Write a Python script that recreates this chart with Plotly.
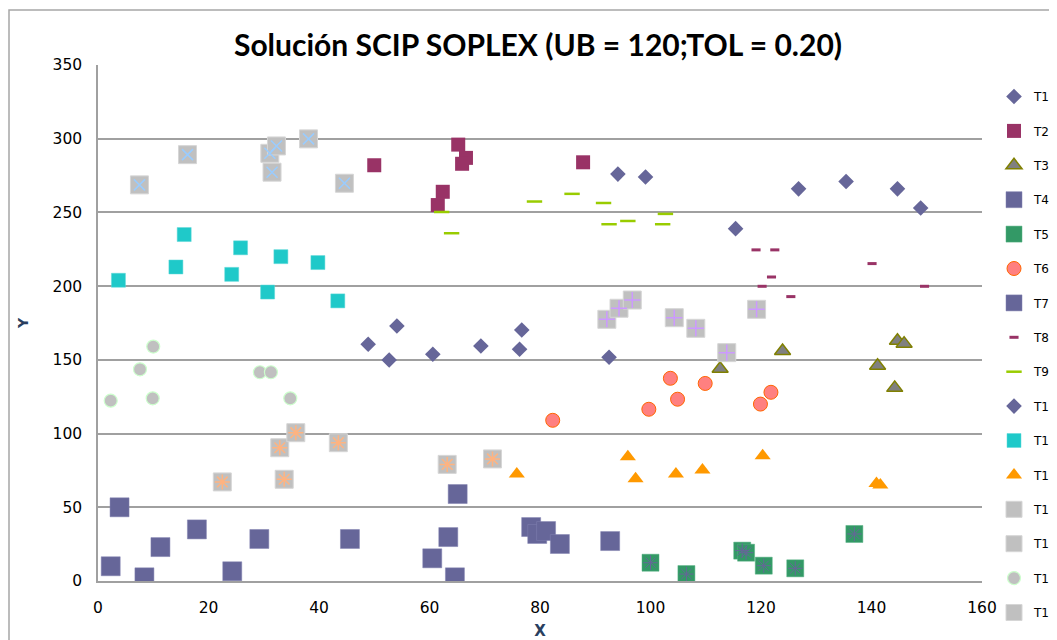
import plotly.graph_objects as go

# ---------------- data ----------------
t1_x = [94.1, 99.1, 115.4, 126.8, 135.4, 144.7, 148.9]
t1_y = [276, 274, 239, 266, 271, 266, 253]
t2_x = [50.0, 61.5, 62.4, 65.2, 66.6, 65.9, 87.8]
t2_y = [282, 255, 264, 296, 287, 283, 284]
t3_x = [112.6, 123.9, 141.1, 144.7, 145.9, 144.2]
t3_y = [144, 156, 146, 163, 161, 131]
t4_x = [2.3, 3.9, 8.4, 11.3, 17.9, 24.3, 29.2, 45.6]
t4_y = [10, 50, 2.5, 23, 35, 6.6, 28.5, 28.5]
t5_x = [100.0, 106.5, 116.6, 117.3, 120.5, 126.2, 136.9]
t5_y = [12.4, 4.7, 20.6, 19.2, 10.4, 8.6, 31.9]
t6_x = [82.3, 99.7, 103.6, 104.9, 109.9, 119.9, 121.8]
t6_y = [109, 116.5, 137.5, 123.3, 134, 120, 128]
t7_x = [60.5, 63.4, 64.6, 65.1, 78.4, 79.5, 81.1, 83.6, 92.7]
t7_y = [15.4, 29.8, 2.5, 59, 36.6, 31.9, 33.9, 25.1, 27.1]
t8_x = [119.1, 122.5, 121.9, 120.2, 125.4, 140.1, 149.6]
t8_y = [224.6, 224.6, 206.2, 199.9, 192.9, 215.3, 199.9]
t9_x = [62.2, 64.0, 79.0, 85.8, 91.5, 92.5, 95.9, 102.7, 102.2]
t9_y = [250.3, 235.9, 257.4, 262.6, 256.4, 242.0, 244.2, 249.0, 242.0]
t10_x = [48.9, 52.7, 54.1, 60.6, 69.3, 76.3, 76.7, 92.5]
t10_y = [160.6, 149.9, 173.0, 153.8, 159.4, 157.2, 170.3, 151.8]
t11_x = [3.7, 15.6, 14.1, 25.8, 24.2, 33.1, 30.7, 39.8, 43.4]
t11_y = [204, 235, 213, 226, 208, 220, 196, 216, 190]
t12_x = [75.8, 95.9, 97.3, 104.6, 109.4, 120.3, 140.9, 141.6]
t12_y = [72.6, 84.3, 69.4, 72.6, 75.3, 85.0, 66.2, 65.2]
t13_x = [7.5, 16.2, 31.1, 32.3, 31.5, 38.1, 44.6]
t13_y = [268.7, 289.2, 290.1, 295.1, 277.3, 299.9, 269.8]
t14_x = [22.5, 33.7, 32.9, 35.8, 43.5, 63.2, 71.4]
t14_y = [67.2, 69.0, 90.4, 100.6, 93.8, 79.1, 82.8]
t15_x = [2.3, 7.6, 10.0, 9.9, 29.3, 31.3, 34.8]
t15_y = [122.3, 143.6, 159.0, 123.9, 141.6, 141.6, 123.9]
t16_x = [92.1, 94.3, 96.7, 104.3, 108.2, 113.8, 119.2]
t16_y = [177.5, 185.0, 190.6, 178.6, 171.4, 154.9, 184.3]

x_ticks = [0, 20, 40, 60, 80, 100, 120, 140, 160]
y_ticks = [0, 50, 100, 150, 200, 250, 300, 350]

title_text = "Solución SCIP SOPLEX (UB = 120;TOL = 0.20)"

# ---------------- figure ----------------
fig = go.Figure()


def add(name, xs, ys, symbol, size, color, lcolor=None, lwidth=0, overlay=None):
    fig.add_trace(go.Scatter(
        x=xs, y=ys, mode="markers", name=name, legendgroup=name,
        marker=dict(symbol=symbol, size=size, color=color,
                    line=dict(color=lcolor or color, width=lwidth)),
    ))
    if overlay is not None:
        osym, osize, ocolor, owidth = overlay
        fig.add_trace(go.Scatter(
            x=xs, y=ys, mode="markers", name=name, legendgroup=name,
            showlegend=False, hoverinfo="skip",
            marker=dict(symbol=osym, size=osize, color=ocolor,
                        line=dict(color=ocolor, width=owidth)),
        ))


SLATE = "#666699"
GRAY = "#C0C0C0"

add("T1", t1_x, t1_y, "diamond", 12, SLATE)
add("T2", t2_x, t2_y, "square", 14, "#993366")
add("T3", t3_x, t3_y, "triangle-up", 14, "#808080", "#808000", 1.5)
add("T4", t4_x, t4_y, "square", 19, SLATE, "#8080B0", 0.5)
add("T5", t5_x, t5_y, "square", 17, "#339966", "#55B080", 0.5,
    overlay=("asterisk-open", 12, SLATE, 1))
add("T6", t6_x, t6_y, "circle", 14, "#FF8080", "#FF6600", 1)
add("T7", t7_x, t7_y, "square", 19, SLATE, "#8080B0", 0.5)
add("T8", t8_x, t8_y, "line-ew-open", 6.5, "#993366", "#993366", 3)
add("T9", t9_x, t9_y, "line-ew-open", 11, "#99CC00", "#99CC00", 2.5)
add("T10", t10_x, t10_y, "diamond", 12, SLATE)
add("T11", t11_x, t11_y, "square", 14, "#1FC9C9", "#5FD8D8", 0.5)
add("T12", t12_x, t12_y, "triangle-up", 14, "#FF9900")
add("T13", t13_x, t13_y, "square", 18, GRAY, "#D6D6D6", 1,
    overlay=("x-thin-open", 11, "#99CCFF", 1.5))
add("T14", t14_x, t14_y, "square", 18, GRAY, "#D6D6D6", 1,
    overlay=("asterisk-open", 12.5, "#FFB380", 1.5))
add("T15", t15_x, t15_y, "circle", 13, GRAY, "#CCFFCC", 1.2)
add("T16", t16_x, t16_y, "square", 18, GRAY, "#D6D6D6", 1,
    overlay=("cross-thin-open", 11.5, "#CC99FF", 1.5))

GRID = "#A0A0A0"
TICKFONT = dict(family="DejaVu Sans", size=15.5, color="#000000")

# the page body adds an 8px offset; coordinates below are figure pixels
W, H = 1057, 632
L, T, PW, PH = 90, 57, 884, 516

fig.update_layout(
    width=W, height=H,
    margin=dict(l=L, r=W - L - PW, t=T, b=H - T - PH, autoexpand=False),
    paper_bgcolor="white", plot_bgcolor="white",
    title=dict(text="<b>" + title_text + "</b>", x=530 / W, xanchor="center",
               y=1 - 37 / H, yanchor="middle", yref="container",
               font=dict(family="Lato", size=30, color="#000000")),
    showlegend=True,
    legend=dict(x=(994 - 8 - L) / PW, y=1 - 17 / PH, xanchor="left", yanchor="top",
                font=dict(family="DejaVu Sans", size=12, color="#000000"),
                tracegroupgap=15.4, bgcolor="rgba(0,0,0,0)", itemsizing="trace",
                maxheight=2000),
    xaxis=dict(range=[0, 160], tickvals=x_ticks, showgrid=False, zeroline=False,
               showline=True, linecolor=GRID, linewidth=1.5, ticks="",
               ticklabelstandoff=12,
               tickfont=TICKFONT, title=dict(text="<b>X</b>", standoff=9,
                                             font=dict(family="DejaVu Sans", size=15))),
    yaxis=dict(range=[0, 350], tickvals=y_ticks, showgrid=True, gridcolor=GRID,
               gridwidth=1.5, zeroline=False, showline=True, linecolor=GRID,
               linewidth=1.5, ticks="", ticklabelstandoff=11, tickfont=TICKFONT,
               title=dict(text="<b>Y</b>", standoff=21,
                          font=dict(family="DejaVu Sans", size=14))),
    shapes=[dict(type="rect", xref="paper", yref="paper",
                 x0=(1 - L) / PW, x1=1.2, y0=-0.3, y1=1 + (T - 2) / PH,
                 line=dict(color="#A6A6A6", width=1.5), layer="below")],
)

fig.write_html("out.html")
